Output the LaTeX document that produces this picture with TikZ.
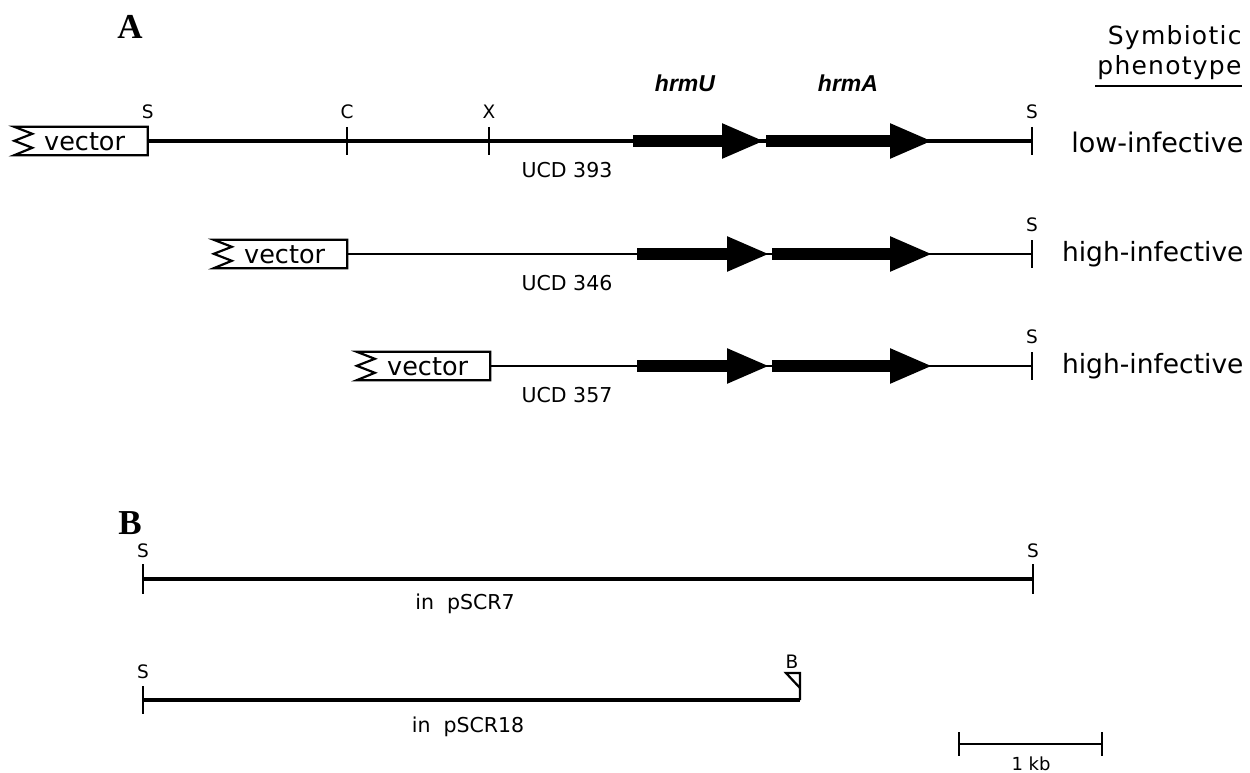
\documentclass[tikz,border=0pt]{standalone}
\usepackage{fontspec}
\setmainfont{Liberation Serif}
\setsansfont{DejaVu Sans}
\newfontfamily\spacedsans[LetterSpace=5]{DejaVu Sans}
\newfontfamily\genefont{Liberation Sans}
\usetikzlibrary{positioning,arrows.meta}

\begin{document}
\begin{tikzpicture}[x=1pt,y=-1pt,every node/.style={font=\sffamily}]
  \tikzstyle{dna}=[line width=3.4pt]
  \tikzstyle{thindna}=[line width=2.6pt]
  \tikzstyle{tick}=[line width=2.2pt]
  \tikzstyle{gene}=[line width=11.5pt, -{Triangle[length=43pt,width=32pt]}]
  \tikzstyle{vecbox}=[minimum width=133pt, minimum height=28pt, inner sep=0pt]
  \tikzstyle{vecline}=[line width=2.2pt, line join=miter]
  \tikzstyle{vectext}=[font=\sffamily\fontsize{25.5}{25}\selectfont, inner sep=0pt, anchor=west]
  \tikzstyle{site}=[font=\sffamily\fontsize{18.5}{18}\selectfont, inner sep=1pt]
  \tikzstyle{clone}=[font=\sffamily\fontsize{20.5}{20}\selectfont, inner sep=1pt]
  \tikzstyle{pheno}=[font=\sffamily\fontsize{26.5}{26}\selectfont, anchor=east]
  \tikzstyle{genename}=[font=\genefont\bfseries\itshape\fontsize{23}{23}\selectfont]
  \tikzstyle{panel}=[font=\rmfamily\bfseries\fontsize{35}{35}\selectfont]
  \tikzstyle{header}=[font=\spacedsans\fontsize{25}{25}\selectfont, anchor=east]
  \useasboundingbox (0,0) rectangle (1250,773);

  % panel letters and column header
  \node[panel] (pA) at (130,27) {A};
  \node[panel] (pB) at (130,523) {B};
  \node[header] (head1) at (1245,38) {Symbiotic};
  \node[header] (head2) at (1245,68) {phenotype};
  \draw[line width=1.6pt] (1095,86) -- (1242,86);

  % UCD 393
  \node[vecbox] (vec1) at (81,141) {};
  \draw[vecline] (vec1.south west) -- (vec1.south east) -- (vec1.north east) -- (vec1.north west)
    -- ++(18,7) -- ++(-18,7) -- ++(18,7) -- cycle;
  \node[vectext] at (44,142) {vector};
  \coordinate (c1) at (347,141);
  \coordinate (x1) at (489,141);
  \coordinate (s1) at (1032,141);
  \coordinate (u1a) at (633,141);
  \coordinate (u1b) at (765,141);
  \coordinate (a1a) at (766,141);
  \coordinate (a1b) at (933,141);
  \draw[dna] (vec1.east) -- (s1);
  \foreach \p in {c1,x1,s1} \draw[tick] (\p) ++(0,-14) -- ++(0,28);
  \draw[gene] (u1a) -- (u1b);
  \draw[gene] (a1a) -- (a1b);
  \node[site, above=21pt of vec1.east] {S};
  \node[site, above=21pt of c1] {C};
  \node[site, above=21pt of x1] {X};
  \node[site, above=21pt of s1] {S};
  \node[genename] (hrmU) at (685,83) {hrmU};
  \node[genename] (hrmA) at (848,83) {hrmA};
  \node[clone] at (567,170) {UCD 393};
  \node[pheno, font=\sffamily\fontsize{27}{27}\selectfont] at (1247,142) {low-infective};

  % UCD 346
  \node[vecbox] (vec2) at (280.5,254) {};
  \draw[vecline] (vec2.south west) -- (vec2.south east) -- (vec2.north east) -- (vec2.north west)
    -- ++(18,7) -- ++(-18,7) -- ++(18,7) -- cycle;
  \node[vectext] at (244,255) {vector};
  \coordinate (s2) at (1032,254);
  \draw[thindna] (vec2.east) -- (s2);
  \draw[tick] (s2) ++(0,-14) -- ++(0,28);
  \draw[gene] (637,254) -- (770,254);
  \draw[gene] (772,254) -- (933,254);
  \node[site, above=21pt of s2] {S};
  \node[clone] at (567,283) {UCD 346};
  \node[pheno] at (1247,254) {high-infective};

  % UCD 357
  \node[vecbox] (vec3) at (423.5,366) {};
  \draw[vecline] (vec3.south west) -- (vec3.south east) -- (vec3.north east) -- (vec3.north west)
    -- ++(18,7) -- ++(-18,7) -- ++(18,7) -- cycle;
  \node[vectext] at (387,367) {vector};
  \coordinate (s3) at (1032,366);
  \draw[thindna] (vec3.east) -- (s3);
  \draw[tick] (s3) ++(0,-14) -- ++(0,28);
  \draw[gene] (637,366) -- (770,366);
  \draw[gene] (772,366) -- (933,366);
  \node[site, above=21pt of s3] {S};
  \node[clone] at (567,395) {UCD 357};
  \node[pheno] at (1247,366) {high-infective};

  % pSCR7
  \coordinate (b1l) at (143,579);
  \coordinate (b1r) at (1033,579);
  \draw[dna] (b1l) -- (b1r);
  \foreach \p in {b1l,b1r} \draw[tick] (\p) ++(0,-15) -- ++(0,30);
  \node[site, above=20pt of b1l] {S};
  \node[site, above=20pt of b1r] {S};
  \node[clone] at (465,604) {in~ pSCR7};

  % pSCR18
  \coordinate (b2l) at (143,700);
  \coordinate (b2r) at (800,700);
  \coordinate (flag) at (800,673);
  \draw[dna] (b2l) -- (b2r);
  \draw[tick] (b2l) ++(0,-14) -- ++(0,28);
  \draw[tick, line join=miter] (b2r) -- (flag) -- ++(-14,0) -- ++(14,15);
  \node[site, above=20pt of b2l] {S};
  \node[site, above=3pt of flag, xshift=-8pt] {B};
  \node[clone] at (468,727) {in~ pSCR18};

  % scale bar
  \coordinate (kb0) at (959,744);
  \coordinate (kb1) at (1102,744);
  \draw[tick] (kb0) -- (kb1);
  \foreach \p in {kb0,kb1} \draw[tick] (\p) ++(0,-12) -- ++(0,24);
  \node[font=\sffamily\fontsize{18}{18}\selectfont] at (1031,764) {1 kb};
\end{tikzpicture}
\end{document}
